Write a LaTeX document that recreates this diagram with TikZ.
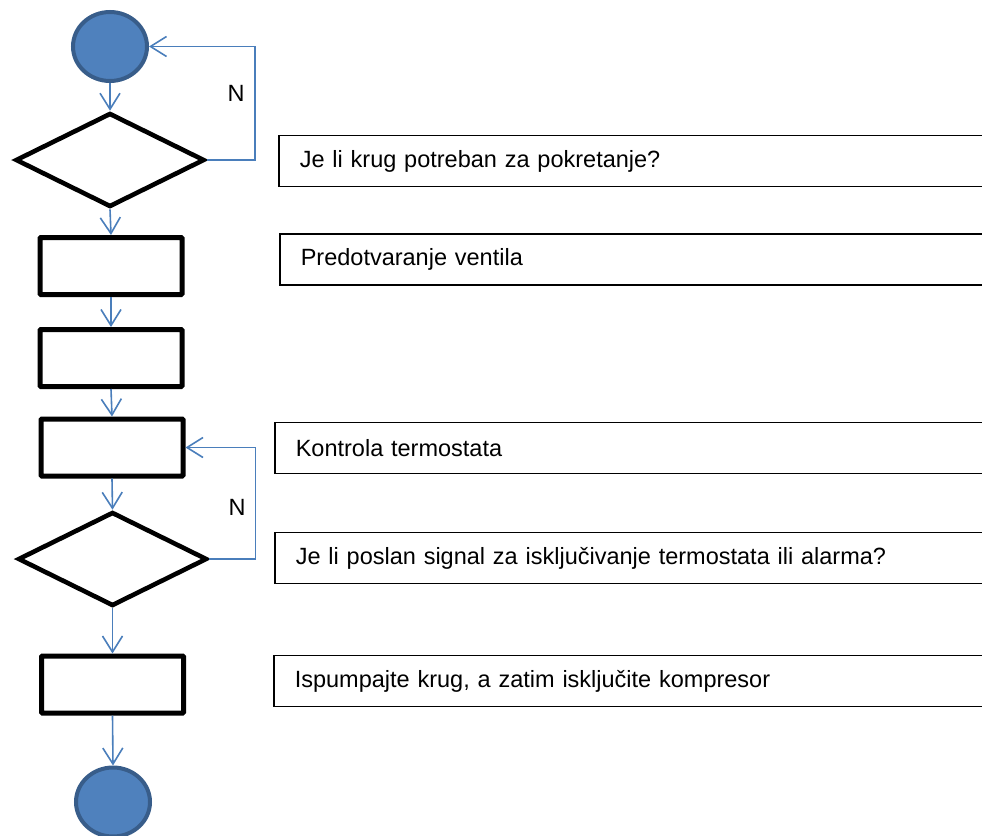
\documentclass[tikz,border=0pt]{standalone}
\usepackage{fontspec}
\setmainfont{Liberation Sans}
\usetikzlibrary{shapes.geometric,arrows.meta}
\definecolor{arrowblue}{HTML}{4A7EBB}
\definecolor{circfill}{HTML}{4F81BD}
\definecolor{circedge}{HTML}{385D8A}
\begin{document}
\begin{tikzpicture}[x=1pt,y=-1pt,
  font=\fontsize{23.5}{28}\selectfont,
  terminal/.style={ellipse, fill=circfill, draw=circedge, line width=4pt,
    minimum width=74pt, minimum height=69pt, inner sep=0pt},
  decision/.style={diamond, draw=black, line width=4.6pt,
    minimum width=189pt, minimum height=94pt, inner sep=0pt},
  process/.style={rectangle, draw=black, line width=5pt, rounded corners=1pt,
    minimum width=142pt, minimum height=57pt, inner sep=0pt},
  flow/.style={draw=arrowblue, line width=1.6pt,
    -{Straight Barb[length=16pt,width=20pt]}},
  tbox/.style={draw=black, line width=1.6pt, anchor=west, minimum width=800pt,
    text width=758pt, inner xsep=21pt, align=left, minimum height=51pt},
  lbl/.style={inner sep=0pt}]
\useasboundingbox (0,0) rectangle (982,835);
\clip (0,0) rectangle (982,835);

\node[terminal] (start) at (110,46.5) {};
\node[decision] (d1) at (110,160) {};
\node[process] (p1) at (111,266) {};
\node[process] (p2) at (111,358) {};
\node[process] (p3) at (112,447.5) {};
\node[decision] (d2) at (112.5,559) {};
\node[process] (p4) at (112.5,684.5) {};
\node[terminal] (end) at (113,802) {};

\draw[flow] (start.south) -- (d1.north);
\draw[flow] (d1.south) -- (p1.north);
\draw[flow] (p1.south) -- (p2.north);
\draw[flow] (p2.south) -- (p3.north);
\draw[flow] (p3.south) -- (d2.north);
\draw[flow] (d2.south) -- (p4.north);
\draw[flow] (p4.south) -- (end.north);

\draw[flow] (d1.east) -- ++(48,0) |- (start.east);
\draw[flow] (d2.east) -- ++(46,0) |- (p3.east);
\node[lbl] (n1) at (236,93) {N};
\node[lbl] (n2) at (237,507) {N};

\node[tbox] (t1) at (278,161) {Je li krug potreban za pokretanje?};
\node[tbox] (t2) at (279,259.5) {Predotvaranje ventila};
\node[tbox] (t3) at (274,448) {Kontrola termostata};
\node[tbox] (t4) at (274,558) {Je li poslan signal za isključivanje termostata ili alarma?};
\node[tbox] (t5) at (273,681) {Ispumpajte krug, a zatim isključite kompresor};
\end{tikzpicture}
\end{document}
